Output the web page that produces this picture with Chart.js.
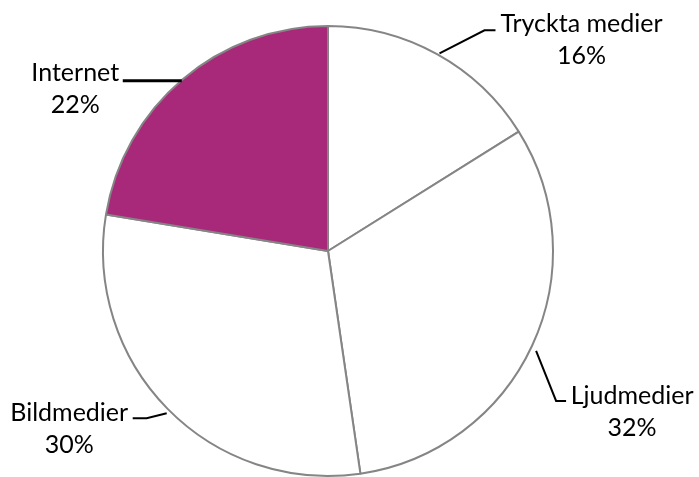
<!DOCTYPE html>
<html>
<head>
<meta charset="utf-8">
<script src="https://cdn.jsdelivr.net/npm/chart.js@4/dist/chart.umd.min.js"></script>
<style>
html,body{margin:0;padding:0;background:#fff;overflow:hidden;width:699px;height:477px;}
#wrap{width:699px;height:520px;}
</style>
</head>
<body>
<div id="wrap"><canvas id="c" width="699" height="520"></canvas></div>
<script>
const categories = ["Tryckta medier", "Ljudmedier", "Bildmedier", "Internet"];
const shares = [16.1, 31.6, 29.9, 22.4];
const shareLabels = ["16%", "32%", "30%", "22%"];
const sliceColors = ["#ffffff", "#ffffff", "#ffffff", "#a8287a"];

// leader / label placement relative to the slice's anchor point on the rim
const labelLayout = [
  {start: [2, 0],  path: [[47,-23],[58,-23]], tx: 144,  ty: -21, lw: 2},
  {start: [3, 5],  path: [[23,55],[33,55]],   tx: 99,   ty: 58,  lw: 2},
  {start: [0, 4],  path: [[-20,9],[-34,9]],   tx: -97.5, ty: 12, lw: 2},
  {start: [0, 2],  path: [[-59,2]],           tx: -106.5, ty: 2.5, lw: 3}
];

const FONT = '25px "Lato", "Liberation Sans", sans-serif';

const labelPlugin = {
  id: 'leaderLabels',
  afterDatasetsDraw(chart) {
    const ctx = chart.ctx;
    const meta = chart.getDatasetMeta(0);
    meta.data.forEach((arc, i) => {
      const mid = (arc.startAngle + arc.endAngle) / 2;
      const r = arc.outerRadius + 1;
      const ax = arc.x + Math.cos(mid) * r;
      const ay = arc.y + Math.sin(mid) * r;
      const L = labelLayout[i];
      ctx.save();
      ctx.strokeStyle = '#000';
      ctx.lineWidth = L.lw;
      ctx.beginPath();
      ctx.moveTo(ax + L.start[0], ay + L.start[1]);
      L.path.forEach(p => ctx.lineTo(ax + p[0], ay + p[1]));
      ctx.stroke();
      ctx.fillStyle = '#000';
      ctx.font = FONT;
      ctx.textAlign = 'center';
      ctx.textBaseline = 'alphabetic';
      ctx.fillText(categories[i], ax + L.tx, ay + L.ty);
      ctx.fillText(shareLabels[i], ax + L.tx, ay + L.ty + 32);
      ctx.restore();
    });
  }
};

new Chart(document.getElementById('c'), {
  type: 'pie',
  data: {
    labels: categories,
    datasets: [{
      data: shares,
      backgroundColor: sliceColors,
      borderColor: '#858585',
      borderWidth: 2
    }]
  },
  options: {
    responsive: false,
    animation: false,
    layout: {padding: {left: 102, right: 145, top: 25, bottom: 43}},
    plugins: {
      legend: {display: false},
      tooltip: {enabled: false}
    }
  },
  plugins: [labelPlugin]
});
</script>
</body>
</html>
